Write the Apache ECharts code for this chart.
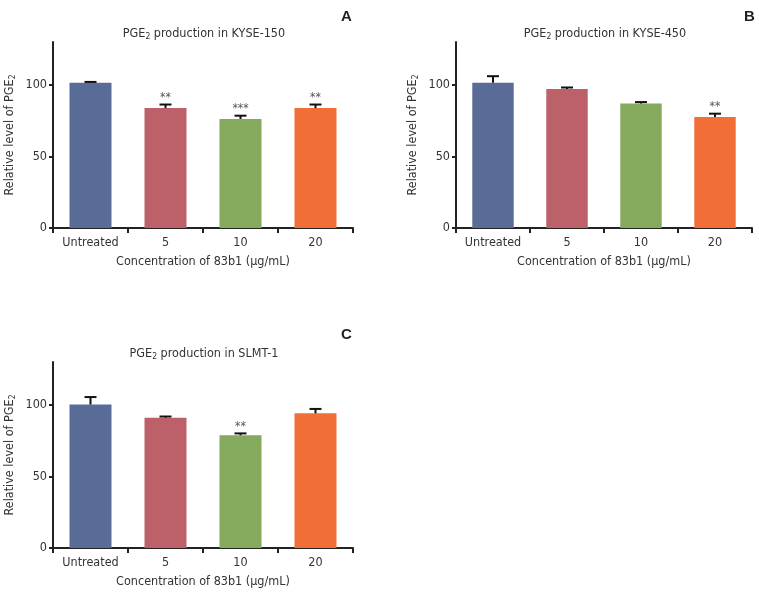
<!DOCTYPE html>
<html>
<head>
<meta charset="utf-8">
<script src="https://cdn.jsdelivr.net/npm/echarts@6/dist/echarts.min.js"></script>
<style>
html,body{margin:0;padding:0;background:#fff;}
#chart{width:759px;height:597px;}
</style>
</head>
<body>
<div id="chart"></div>
<script>
// ---- data ----
const categories = ["Untreated", "5", "10", "20"];
const barColors = ["#596c98", "#bc6169", "#85a95d", "#f26e37"];
const yTicks = [0, 50, 100];

const kyse150Mean = [101.5, 83.8, 76.2, 83.8];
const kyse150Err = [0.6, 2.5, 2.3, 2.5];
const kyse150Sig = ["", "**", "***", "**"];

const kyse450Mean = [101.5, 97.2, 87.1, 77.5];
const kyse450Err = [4.6, 1.0, 0.9, 2.4];
const kyse450Sig = ["", "", "", "**"];

const slmt1Mean = [100.3, 91.1, 78.8, 94.1];
const slmt1Err = [5.2, 0.8, 1.3, 3.1];
const slmt1Sig = ["", "", "**", ""];

const panelTitles = ["KYSE-150", "KYSE-450", "SLMT-1"];
const panelLetters = ["A", "B", "C"];
const xName = "Concentration of 83b1 (\u00b5g/mL)";

// ---- chart ----
const FONT = "'DejaVu Sans Condensed','Liberation Sans Narrow','Liberation Sans',sans-serif";
const FS = 12.5;
const panels = [
  {mean: kyse150Mean, err: kyse150Err, sig: kyse150Sig, left: 53, top: 42, width: 300},
  {mean: kyse450Mean, err: kyse450Err, sig: kyse450Sig, left: 456, top: 42, width: 296},
  {mean: slmt1Mean, err: slmt1Err, sig: slmt1Sig, left: 53, top: 362, width: 300}
];
const letterPos = [[336, 4], [739, 4], [336, 322]];
const H = 186;
const axisColor = "#222";
const textColor = "#333";

const option = {
  backgroundColor: "#fff",
  animation: false,
  textStyle: {fontFamily: FONT},
  title: [],
  grid: [],
  xAxis: [],
  yAxis: [],
  series: []
};

panels.forEach((p, i) => {
  option.grid.push({left: p.left, top: p.top, width: p.width, height: H, containLabel: false});
  option.title.push({
    text: "PGE{s|2} production in " + panelTitles[i],
    left: p.left + p.width / 2 - 4, top: p.top - 20, textAlign: "center",
    textStyle: {fontFamily: FONT, fontSize: FS, fontWeight: "normal", color: textColor,
      rich: {s: {fontFamily: FONT, fontSize: 8.5, color: textColor, verticalAlign: "bottom", padding: [5, 0, 0, 0]}}}
  });
  option.title.push({
    text: panelLetters[i], left: letterPos[i][0], top: letterPos[i][1],
    textStyle: {fontFamily: "'Liberation Sans',sans-serif", fontSize: 15, fontWeight: "bold", color: "#222"}
  });
  option.xAxis.push({
    type: "category", gridIndex: i, data: categories,
    name: xName, nameLocation: "middle", nameGap: 27,
    nameTextStyle: {fontFamily: FONT, fontSize: FS, color: textColor},
    axisLine: {lineStyle: {color: axisColor, width: 2}},
    axisTick: {show: true, interval: 0, length: 5, lineStyle: {color: axisColor, width: 2}},
    axisLabel: {interval: 0, fontFamily: FONT, fontSize: FS, color: textColor, margin: 8},
    splitLine: {show: false}
  });
  option.yAxis.push({
    type: "value", gridIndex: i, min: 0, max: 130, interval: 50,
    name: "Relative level of PGE{s|2}", nameLocation: "middle", nameGap: 36, nameRotate: 90,
    nameTextStyle: {fontFamily: FONT, fontSize: FS, color: textColor,
      rich: {s: {fontFamily: FONT, fontSize: 8.5, color: textColor, verticalAlign: "bottom", padding: [5, 0, 0, 0]}}},
    axisLine: {show: true, lineStyle: {color: axisColor, width: 2}},
    axisTick: {show: true, length: 4, lineStyle: {color: axisColor, width: 2}, customValues: yTicks},
    axisLabel: {fontFamily: FONT, fontSize: FS, color: textColor, margin: 6, customValues: yTicks},
    splitLine: {show: false}
  });
  option.series.push({
    type: "bar", xAxisIndex: i, yAxisIndex: i, barWidth: "56%",
    data: p.mean.map((v, k) => ({value: v, itemStyle: {color: barColors[k]}}))
  });
  const sig = p.sig;
  option.series.push({
    type: "custom", xAxisIndex: i, yAxisIndex: i, z: 5,
    data: p.mean.map((v, k) => [k, v, p.err[k]]),
    renderItem: function (params, api) {
      const x = api.value(0), y = api.value(1), e = api.value(2);
      const base = api.coord([x, y]);
      const top = api.coord([x, y + e]);
      const hw = 6;
      const children = [
        {type: "line", shape: {x1: base[0], y1: base[1], x2: top[0], y2: top[1]}, style: {stroke: "#111", lineWidth: 2}},
        {type: "line", shape: {x1: top[0] - hw, y1: top[1], x2: top[0] + hw, y2: top[1]}, style: {stroke: "#111", lineWidth: 2}}
      ];
      const s = sig[params.dataIndex];
      if (s) {
        children.push({type: "text", x: top[0], y: top[1] - 1,
          style: {text: s, fill: "#555", font: "12px " + FONT, textAlign: "center", textVerticalAlign: "bottom"}});
      }
      return {type: "group", children: children};
    }
  });
});

const chart = echarts.init(document.getElementById("chart"), null, {renderer: "canvas"});
chart.setOption(option);
</script>
</body>
</html>
